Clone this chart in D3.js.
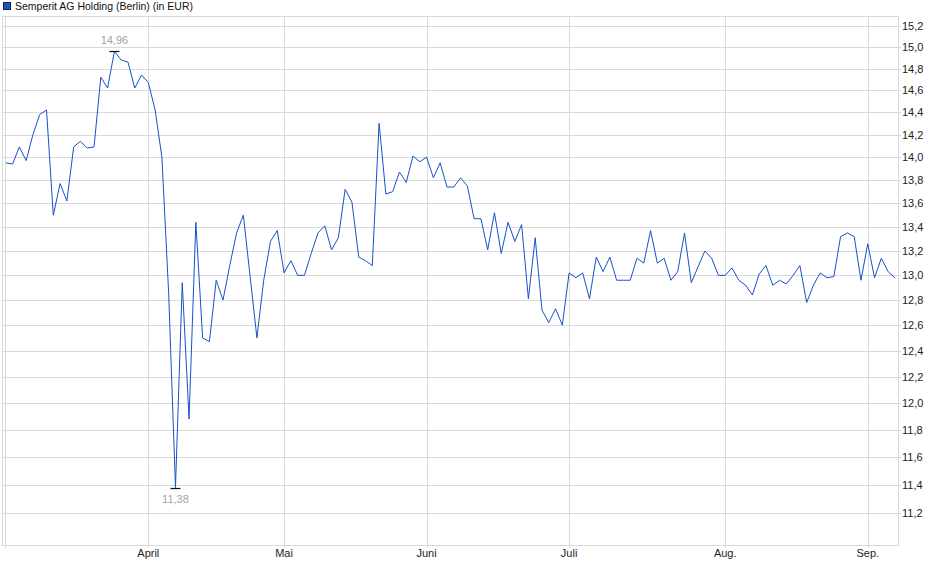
<!DOCTYPE html>
<html>
<head>
<meta charset="utf-8">
<script src="https://cdn.jsdelivr.net/npm/d3@7"></script>
<style>
  body { margin: 0; background: #fff; }
  text { font-family: "Liberation Sans", Arial, sans-serif; }
</style>
</head>
<body>
<div id="wrapper"></div>
<script>
// daily closing prices, one per trading day (3 Mar - 5 Sep)
const prices = [
  13.95, 13.94, 14.09, 13.97, 14.20, 14.38, 14.42, 13.50, 13.77, 13.62, 14.09,
  14.14, 14.08, 14.09, 14.72, 14.62, 14.96, 14.88, 14.86, 14.62, 14.74,
  14.67, 14.42, 14.00, 12.85, 11.38, 12.94, 11.88, 13.44, 12.50, 12.47,
  12.96, 12.80, 13.08, 13.35, 13.50, 12.99, 12.50, 12.96, 13.28, 13.37,
  13.02, 13.12, 13.00, 13.00, 13.18, 13.35, 13.41, 13.21, 13.31, 13.72, 13.61,
  13.15, 13.12, 13.08, 14.30, 13.68, 13.70, 13.87, 13.78, 14.01, 13.96,
  14.00, 13.82, 13.95, 13.74, 13.74, 13.82, 13.75, 13.47, 13.47, 13.21, 13.52,
  13.18, 13.44, 13.28, 13.42, 12.81, 13.31, 12.72, 12.62, 12.73, 12.60,
  13.02, 12.98, 13.02, 12.81, 13.15, 13.03, 13.15, 12.96, 12.96, 12.96, 13.14,
  13.10, 13.37, 13.10, 13.14, 12.96, 13.03, 13.35, 12.94, 13.07, 13.20, 13.14, 13.00,
  13.00, 13.06, 12.96, 12.92, 12.84, 13.01, 13.08, 12.92, 12.96, 12.93, 13.00,
  13.08, 12.78, 12.92, 13.02, 12.98, 12.99, 13.32, 13.35, 13.32, 12.96,
  13.26, 12.98, 13.14, 13.03, 12.98
]

// month labels and the index of the first trading day of each month
const monthLabels = ["April", "Mai", "Juni", "Juli", "Aug.", "Sep."]
const monthStart = [21, 41, 62, 83, 106, 127]

const yTicks = [11.2, 11.4, 11.6, 11.8, 12.0, 12.2, 12.4, 12.6, 12.8, 13.0,
  13.2, 13.4, 13.6, 13.8, 14.0, 14.2, 14.4, 14.6, 14.8, 15.0, 15.2]

const title = "Semperit AG Holding (Berlin) (in EUR)"

// dimensions
let dim = {
  width: 940,
  height: 579,
  left: 3,
  right: 898,
  top: 16,
  bottom: 545,
}

const de = d3.formatLocale({decimal: ",", thousands: ".", grouping: [3], currency: ["", " €"]})
const fmt1 = de.format(".1f")
const fmt2 = de.format(".2f")

const svg = d3.select("#wrapper")
  .append("svg")
  .attr("width", dim.width)
  .attr("height", dim.height)

// scales
const x_scale = d3.scaleLinear()
  .domain([0, prices.length - 1])
  .range([5.8, 894.9])
const y_scale = d3.scaleLog()
  .domain([11.2, 15.2])
  .range([513, 26])

const grid = "#dadada"

// horizontal grid + right labels
svg.append("g").selectAll("line")
  .data(yTicks)
  .join("line")
  .attr("x1", dim.left)
  .attr("x2", dim.right + 3)
  .attr("y1", d => Math.round(y_scale(d)) + 0.5)
  .attr("y2", d => Math.round(y_scale(d)) + 0.5)
  .attr("stroke", grid)

svg.append("g").selectAll("text")
  .data(yTicks)
  .join("text")
  .attr("x", 902)
  .attr("y", d => Math.round(y_scale(d)) + 4)
  .attr("font-size", 11)
  .attr("fill", "#222")
  .text(d => fmt1(d))

// vertical month grid + labels
svg.append("g").selectAll("line")
  .data(monthStart)
  .join("line")
  .attr("x1", d => Math.round(x_scale(d)) + 0.5)
  .attr("x2", d => Math.round(x_scale(d)) + 0.5)
  .attr("y1", dim.top)
  .attr("y2", dim.bottom + 3)
  .attr("stroke", grid)

svg.append("g").selectAll("text")
  .data(monthStart)
  .join("text")
  .attr("x", d => x_scale(d))
  .attr("y", 557)
  .attr("text-anchor", "middle")
  .attr("font-size", 11)
  .attr("fill", "#222")
  .text((d, i) => monthLabels[i])

// frame
svg.append("rect")
  .attr("x", dim.left - 0.5)
  .attr("y", dim.top + 0.5)
  .attr("width", dim.right - dim.left + 1)
  .attr("height", dim.bottom - dim.top)
  .attr("fill", "none")
  .attr("stroke", grid)
svg.append("line")
  .attr("x1", 5.5).attr("x2", 5.5)
  .attr("y1", dim.top).attr("y2", dim.bottom + 3)
  .attr("stroke", grid)

// price line
const line = d3.line()
  .x((d, i) => x_scale(i))
  .y(d => y_scale(d))

svg.append("path")
  .datum(prices)
  .attr("d", line)
  .attr("fill", "none")
  .attr("stroke", "#1652c6")
  .attr("stroke-width", 1)

// high / low markers
const hiIdx = d3.maxIndex(prices)
const loIdx = d3.minIndex(prices)
const marks = [
  {i: hiIdx, v: prices[hiIdx], dy: -8},
  {i: loIdx, v: prices[loIdx], dy: 14},
]
marks.forEach(m => {
  const px = x_scale(m.i)
  const py = Math.round(y_scale(m.v)) + 0.5
  svg.append("line")
    .attr("x1", px - 5).attr("x2", px + 5)
    .attr("y1", py).attr("y2", py)
    .attr("stroke", "#111")
    .attr("stroke-width", 1.2)
  svg.append("text")
    .attr("x", px)
    .attr("y", py + m.dy)
    .attr("text-anchor", "middle")
    .attr("font-size", 11)
    .attr("fill", "#a9a398")
    .text(fmt2(m.v))
})

// legend
svg.append("rect")
  .attr("x", 3.5).attr("y", 2.5)
  .attr("width", 7).attr("height", 7)
  .attr("fill", "#1d55c0")
  .attr("stroke", "#0d2559")
svg.append("text")
  .attr("x", 15)
  .attr("y", 10)
  .attr("font-size", 10.5)
  .attr("fill", "#111")
  .text(title)
</script>
</body>
</html>
